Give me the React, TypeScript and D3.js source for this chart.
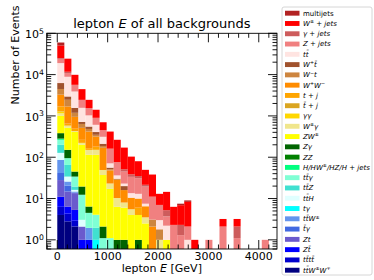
import React from "react";
import * as d3 from "d3";

// ---- bins (GeV) ----
const binEdges = [0, 140, 280, 420, 560, 700, 840, 980, 1120, 1260, 1400, 1540, 1680, 1820, 1960, 2100, 2240, 2380, 2520, 2660, 2800, 2940, 3080, 3220, 3360, 3500, 3640, 3780, 3920, 4060, 4200];

// ---- series values per bin (events) ----
const multijets = [9100, 0, 0, 0, 0, 0, 0, 0, 0, 0, 0, 0, 0, 0, 0, 0, 0, 0.6, 0.7, 0, 0, 0, 0, 0, 0, 0, 0, 0, 0, 0];
const wJets = [25600, 12600, 4230, 2000, 900, 510, 250, 257, 188, 120, 65, 45, 28, 27, 6, 9.3, 4, 4.6, 6.2, 1.0, 0, 0, 0, 1.1, 0, 1.1, 0, 0, 0, 0];
const gammaJets = [1100, 800, 0, 0, 0, 0, 0, 0, 0, 6, 5, 4, 2, 0, 0, 1.5, 0, 1.0, 0, 0, 0, 0, 0, 0, 0, 1.0, 0, 0, 0, 0];
const zJets = [5000, 2050, 1760, 880, 520, 291, 140, 90, 40, 22, 20, 18, 12, 8, 4, 1.5, 2.3, 1.3, 1.1, 0, 0, 1.0, 0, 2.1, 0, 1.1, 0, 0, 0, 1.0];
const ttbar = [12750, 5900, 2330, 850, 477, 202, 100, 15, 6, 3, 3, 3, 1, 0, 1.2, 1.2, 0, 0, 1.0, 0, 0, 0, 0, 0, 0, 0, 0, 0, 0, 0];
const wPlusTbar = [1760, 500, 380, 80, 70, 58, 25, 5, 0, 4, 0, 0, 0, 0, 0, 0, 0, 0, 0, 0, 0, 0, 0, 0, 0, 0, 0, 0, 0, 0];
const wMinusT = [1220, 760, 240, 125, 65, 33, 18, 3, 2, 0, 0, 0, 0, 1.0, 0.8, 0, 0, 0, 0, 0, 0, 0, 0, 0, 0, 0, 0, 0, 0, 0];
const wPlusWMinus = [1580, 1050, 460, 250, 253, 136, 120, 25, 18, 8, 5, 4, 3, 2.1, 0, 0, 0, 0, 0, 0, 0, 0, 0, 0, 0, 0, 0, 0, 0, 0];
const tJ = [380, 65, 60, 41, 15, 29, 0, 0, 0, 0, 0, 2, 0, 0, 0, 0, 0, 0, 0, 0, 0, 0, 0, 0, 0, 0, 0, 0, 0, 0];
const tbarJ = [25, 10, 0, 0, 0, 0, 0, 0, 0, 0, 0, 0, 0, 0, 0, 0, 0, 0, 0, 0, 0, 0, 0, 0, 0, 0, 0, 0, 0, 0];
const gammaGamma = [130, 0, 0, 0, 0, 0, 0, 0, 0, 0, 0, 0, 0, 0, 0, 0, 0, 0, 0, 0, 0, 0, 0, 0, 0, 0, 0, 0, 0, 0];
const wGamma = [150, 60, 20, 23, 36, 37, 12, 6, 4, 2, 1.5, 0, 1, 0, 1.0, 0, 0, 0, 0, 0, 0, 0, 0, 0, 0, 0, 0, 0, 0, 0];
const zW = [620, 364, 365, 180, 108, 110, 35, 16, 5.3, 5, 4, 3, 2.5, 0, 0, 1.0, 0, 0, 0, 0, 0, 0, 0, 0, 0, 0, 0, 0, 0, 0];
const zGamma = [96, 56, 11, 7.2, 1.9, 0, 1.0, 0, 1.0, 1.0, 0, 1.0, 0, 0, 0, 0, 0, 0, 0, 0, 0, 0, 0, 0, 0, 0, 0, 0, 0, 0];
const zz = [8, 0, 0, 0, 0, 0, 0, 0, 0, 0, 0, 0, 0, 0, 0, 0, 0, 0, 0, 0, 0, 0, 0, 0, 0, 0, 0, 0, 0, 0];
const higgs = [15, 0, 0, 0, 0, 0, 0, 0, 0, 0, 0, 0, 0, 0, 0, 0, 0, 0, 0, 0, 0, 0, 0, 0, 0, 0, 0, 0, 0, 0];
const ttGamma = [64, 30, 14.5, 9.3, 2.55, 2.1, 1.1, 1.1, 0, 0, 0, 0, 0, 0, 0, 0, 0, 0, 0, 0, 0, 0, 0, 0, 0, 0, 0, 0, 0, 0];
const ttZ = [72, 31, 3.3, 0, 0, 0.95, 0, 0, 0, 0, 0, 0, 0, 0, 0, 0, 0, 0, 0, 0, 0, 0, 0, 0, 0, 0, 0, 0, 0, 0];
const ttH = [41, 8.2, 1.4, 0.95, 0, 0, 0, 0, 0, 0, 0, 0, 0, 0, 0, 0, 0, 0, 0, 0, 0, 0, 0, 0, 0, 0, 0, 0, 0, 0];
const tGamma = [0, 0, 0, 0, 0, 1.0, 0, 0, 0, 0, 0, 0, 0, 0, 0, 0, 0, 0, 0, 0, 0, 0, 0, 0, 0, 0, 0, 0, 0, 0];
const ttW = [45, 5.4, 0.8, 0, 0.95, 0, 0, 0, 0, 0, 0, 0, 0, 0, 0, 0, 0, 0, 0, 0, 0, 0, 0, 0, 0, 0, 0, 0, 0, 0];
const tbarGamma = [13.5, 5.6, 0.5, 0, 0, 0, 0, 0, 0, 0, 0, 0, 0, 0, 0, 0, 0, 0, 0, 0, 0, 0, 0, 0, 0, 0, 0, 0, 0, 0];
const zT = [17, 8.4, 8.2, 1.1, 0, 0, 0, 0, 0, 0, 0, 0, 0, 0, 0, 0, 0, 0, 0, 0, 0, 0, 0, 0, 0, 0, 0, 0, 0, 0];
const zTbar = [4.7, 2.1, 2.4, 1.0, 1.0, 0, 0, 0, 0, 0, 0, 0, 0, 0, 0, 0, 0, 0, 0, 0, 0, 0, 0, 0, 0, 0, 0, 0, 0, 0];
const tttt = [2.3, 1.5, 0.8, 0, 0, 0, 0, 0, 0, 0, 0, 0, 0, 0, 0, 0, 0, 0, 0, 0, 0, 0, 0, 0, 0, 0, 0, 0, 0, 0];
const ttWW = [4, 2.8, 2.1, 0, 0, 0, 0, 0, 0, 0, 0, 0, 0, 0, 0, 0, 0, 0, 0, 0, 0, 0, 0, 0, 0, 0, 0, 0, 0, 0];

// legend order (top of legend = top of stack)
const labels = ["multijets", "W^{±} + jets", "γ + jets", "Z + jets", "tt̄", "W^{+}t̄", "W^{−}t", "W^{+}W^{−}", "t + j", "t̄ + j", "γγ", "W^{±}γ", "ZW^{±}", "Zγ", "ZZ", "H/HW^{±}/HZ/H + jets", "tt̄γ", "tt̄Z", "tt̄H", "tγ", "tt̄W^{±}", "t̄γ", "Zt", "Zt̄", "tt̄tt̄", "tt̄W^{±}W^{∓}"];
const colors = ["#b22222", "#ff0000", "#cd5c5c", "#f08080", "#ffe4e1", "#a0522d", "#cd853f", "#ff8c00", "#ffa500", "#daa520", "#ffd700", "#f0e68c", "#ffff00", "#006400", "#008000", "#00ff7f", "#7fffd4", "#40e0d0", "#e0ffff", "#00ffff", "#6495ed", "#4169e1", "#6a5acd", "#0000ff", "#0000cd", "#000080"];
const valueLists = [multijets, wJets, gammaJets, zJets, ttbar, wPlusTbar, wMinusT, wPlusWMinus, tJ, tbarJ, gammaGamma, wGamma, zW, zGamma, zz, higgs, ttGamma, ttZ, ttH, tGamma, ttW, tbarGamma, zT, zTbar, tttt, ttWW];

const xTickValues = [0, 1000, 2000, 3000, 4000];
const yTickExponents = [0, 1, 2, 3, 4, 5];

const W = 374, H = 280;
const plot = { left: 46.7, right: 277, top: 33.3, bottom: 249 };
const FONT = "DejaVu Sans, sans-serif";

function MathText({ text, x, y, fontSize, italic, anchor }: any) {
  const parts: { s: string; sup: boolean }[] = [];
  const re = /\^\{([^}]*)\}/g;
  let last = 0;
  let m;
  while ((m = re.exec(text)) !== null) {
    if (m.index > last) parts.push({ s: text.slice(last, m.index), sup: false });
    parts.push({ s: m[1], sup: true });
    last = m.index + m[0].length;
  }
  if (last < text.length) parts.push({ s: text.slice(last), sup: false });
  const shift = fontSize * 0.38;
  let prevSup = false;
  return (
    <text x={x} y={y} fontSize={fontSize} fontFamily={FONT} fontStyle={italic ? "italic" : "normal"} textAnchor={anchor || "start"} fill="#000" style={{ whiteSpace: "pre" }}>
      {parts.map((p, i) => {
        let dy = 0;
        if (p.sup && !prevSup) dy = -shift;
        else if (!p.sup && prevSup) dy = shift;
        prevSup = p.sup;
        return (
          <tspan key={i} dy={dy} fontSize={p.sup ? fontSize * 0.7 : fontSize}>
            {p.s}
          </tspan>
        );
      })}
    </text>
  );
}

export default function App() {
  const x = d3.scaleLinear().domain([-210, 4362]).range([plot.left, plot.right]);
  const y = d3.scaleLog().domain([0.6, 1e5]).range([plot.bottom, plot.top]);

  const stackIdx = valueLists.map((_, i) => i).reverse(); // bottom first
  const keys = stackIdx.map((i) => "s" + i);
  const rows = binEdges.slice(0, -1).map((_, b) => {
    const r: any = {};
    stackIdx.forEach((i) => (r["s" + i] = valueLists[i][b]));
    return r;
  });
  const stacked = d3.stack().keys(keys)(rows);

  const yMin = y.domain()[0];
  const rects: any[] = [];
  stacked.forEach((layer, li) => {
    const si = stackIdx[li];
    layer.forEach((d, b) => {
      if (d[1] <= d[0]) return;
      const top = y(d[1]);
      const bot = y(Math.max(d[0], yMin * 0.5));
      rects.push(
        <rect key={`${si}-${b}`} x={x(binEdges[b])} width={x(binEdges[b + 1]) - x(binEdges[b])} y={top} height={Math.max(0, bot - top)} fill={colors[si]} />
      );
    });
  });

  const xMinor = d3.range(-200, 4400, 200).filter((v) => v % 1000 !== 0 && v >= x.domain()[0] && v <= x.domain()[1]);
  const yMajor = yTickExponents.map((e) => Math.pow(10, e));
  const yMinor: number[] = [];
  for (let e = -1; e <= 4; e++) for (let k = 2; k <= 9; k++) {
    const v = k * Math.pow(10, e);
    if (v >= y.domain()[0] - 1e-9 && v <= y.domain()[1]) yMinor.push(v);
  }
  const MAJ = 9, MIN = 4.5;
  const tickStyle = { stroke: "#000", strokeWidth: 0.9 };

  const legendX = 282, legendY = 7, legendW = 90, legendH = 268;
  const rowH = 10.28, firstRow = 13.2;

  return (
    <svg width={W} height={H} style={{ position: "absolute", left: 0, top: 0, background: "#fff" }}>
      <rect x={0} y={0} width={W} height={H} fill="#fff" />
      <defs>
        <clipPath id="plotclip">
          <rect x={plot.left} y={plot.top} width={plot.right - plot.left} height={plot.bottom - plot.top} />
        </clipPath>
      </defs>
      <g clipPath="url(#plotclip)">{rects}</g>

      {/* ticks */}
      {xTickValues.map((v) => (
        <g key={"xM" + v}>
          <line x1={x(v)} x2={x(v)} y1={plot.bottom} y2={plot.bottom - MAJ} {...tickStyle} />
          <line x1={x(v)} x2={x(v)} y1={plot.top} y2={plot.top + MAJ} {...tickStyle} />
        </g>
      ))}
      {xMinor.map((v) => (
        <g key={"xm" + v}>
          <line x1={x(v)} x2={x(v)} y1={plot.bottom} y2={plot.bottom - MIN} {...tickStyle} />
          <line x1={x(v)} x2={x(v)} y1={plot.top} y2={plot.top + MIN} {...tickStyle} />
        </g>
      ))}
      {yMajor.map((v) => (
        <g key={"yM" + v}>
          <line x1={plot.left} x2={plot.left + MAJ} y1={y(v)} y2={y(v)} {...tickStyle} />
          <line x1={plot.right} x2={plot.right - MAJ} y1={y(v)} y2={y(v)} {...tickStyle} />
        </g>
      ))}
      {yMinor.map((v) => (
        <g key={"ym" + v}>
          <line x1={plot.left} x2={plot.left + MIN} y1={y(v)} y2={y(v)} {...tickStyle} />
          <line x1={plot.right} x2={plot.right - MIN} y1={y(v)} y2={y(v)} {...tickStyle} />
        </g>
      ))}

      <rect x={plot.left} y={plot.top} width={plot.right - plot.left} height={plot.bottom - plot.top} fill="none" stroke="#000" strokeWidth={0.9} />

      {/* tick labels */}
      {xTickValues.map((v) => (
        <text key={"xl" + v} x={x(v)} y={260} fontSize={11} fontFamily={FONT} textAnchor="middle" fill="#000">
          {String(v)}
        </text>
      ))}
      {yTickExponents.map((e) => (
        <MathText key={"yl" + e} text={`10^{${e}}`} x={44} y={y(Math.pow(10, e)) + 4.6} fontSize={11} italic={false} anchor="end" />
      ))}

      {/* title and axis labels */}
      <text x={(plot.left + plot.right) / 2} y={28} fontSize={13} fontFamily={FONT} textAnchor="middle" fill="#000" style={{ whiteSpace: "pre" }}>
        {"lepton "}
        <tspan fontStyle="italic">E</tspan>
        {" of all backgrounds"}
      </text>
      <text x={(plot.left + plot.right) / 2} y={272} fontSize={11} fontFamily={FONT} textAnchor="middle" fill="#000" style={{ whiteSpace: "pre" }}>
        {"lepton "}
        <tspan fontStyle="italic">E</tspan>
        {" [GeV]"}
      </text>
      <text transform={`translate(18.5,55) rotate(-90)`} fontSize={11} fontFamily={FONT} textAnchor="middle" fill="#000">
        Number of Events
      </text>

      {/* legend */}
      <rect x={legendX} y={legendY} width={legendW} height={legendH} rx={2} fill="#fff" fillOpacity={0.8} stroke="#cccccc" strokeWidth={0.8} />
      {labels.map((lab, i) => {
        const cy = firstRow + i * rowH;
        return (
          <g key={"lg" + i}>
            <rect x={285} y={cy - 2.45} width={14.5} height={4.9} fill={colors[i]} />
            <MathText text={lab} x={303} y={cy + 2.4} fontSize={7} italic={i !== 0} />
          </g>
        );
      })}
    </svg>
  );
}
